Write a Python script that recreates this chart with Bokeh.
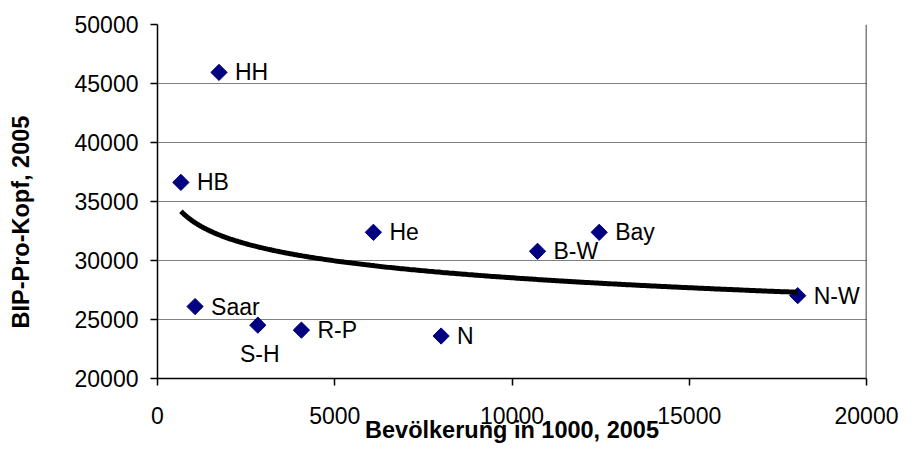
import numpy as np
from bokeh.plotting import figure
from bokeh.models import (FixedTicker, LabelSet, ColumnDataSource, Range1d,
                          Span, BasicTickFormatter, Title)
from bokeh.core.properties import value
from bokeh.embed import file_html
from bokeh.resources import INLINE

# ---- data ----
names = ["HB", "Saar", "HH", "S-H", "R-P", "He", "N", "B-W", "Bay", "N-W"]
pop = [660, 1060, 1735, 2830, 4060, 6090, 8000, 10720, 12460, 18060]
gdp = [36620, 26100, 45940, 24520, 24100, 32390, 23600, 30780, 32390, 27020]
x_ticks = [0, 5000, 10000, 15000, 20000]
y_ticks = [20000, 25000, 30000, 35000, 40000, 45000, 50000]
x_title = "Bevölkerung in 1000, 2005"
y_title = "BIP-Pro-Kopf, 2005"

FONT = "Liberation Sans"

p = figure(width=900, height=446, x_range=Range1d(0, 20000), y_range=Range1d(20000, 50000),
           output_backend="svg", toolbar_location=None,
           min_border_left=157, min_border_right=34, min_border_top=24, min_border_bottom=68)
p.background_fill_color = "white"
p.border_fill_color = "white"
p.outline_line_color = None

p.xgrid.visible = False
p.ygrid.grid_line_color = "#808080"
p.ygrid.grid_line_width = 1
p.ygrid.ticker = FixedTicker(ticks=y_ticks)

for ax, ticks, standoff in ((p.xaxis, x_ticks, 21), (p.yaxis, y_ticks, 12)):
    ax.ticker = FixedTicker(ticks=ticks)
    ax.formatter = BasicTickFormatter(use_scientific=False)
    ax.major_tick_out = 7
    ax.major_tick_in = 0
    ax.minor_tick_line_color = None
    ax.axis_line_color = "black"
    ax.axis_line_width = 1.5
    ax.major_tick_line_color = "black"
    ax.major_tick_line_width = 1.5
    ax.major_label_text_font = FONT
    ax.major_label_text_font_size = "23px"
    ax.major_label_text_color = "black"
    ax.major_label_standoff = standoff

p.xaxis.axis_label = x_title
p.xaxis.axis_label_standoff = -10
p.xaxis.axis_label_text_font = FONT
p.xaxis.axis_label_text_font_size = "23.5px"
p.xaxis.axis_label_text_font_style = "bold"
p.xaxis.axis_label_text_color = "black"

# blank spacer label widens the y-axis panel so the title sits at the far left
p.yaxis.axis_label = " "
p.yaxis.axis_label_standoff = 34
p.yaxis.axis_label_text_font_size = "1px"

p.add_layout(Title(text=y_title, align="left", offset=50, text_font=FONT,
                   text_font_size="23.5px", text_font_style="bold", text_color="black",
                   standoff=0), "left")

p.add_layout(Span(location=20000, dimension="height", line_color="black", line_width=1.5))

# markers
p.scatter(pop, gdp, marker="square", angle=np.pi / 4, size=11.5,
          fill_color="#000080", line_color="#000080")

# data labels
below = {"S-H"}
xo = [2 if n in below else 16 for n in names]
yo = [-29 if n in below else 0 for n in names]
al = ["center" if n in below else "left" for n in names]
src = ColumnDataSource(dict(x=pop, y=gdp, t=names, xo=xo, yo=yo, al=al))
p.add_layout(LabelSet(x="x", y="y", text="t", source=src, x_offset="xo", y_offset="yo",
                      text_align="al", text_baseline="middle", text_font=value(FONT),
                      text_font_size=value("23px"), text_color="black"))

# logarithmic trend line (least squares fit of gdp on ln(pop))
lx = np.log(np.array(pop, dtype=float))
a, b = np.polyfit(lx, np.array(gdp, dtype=float), 1)
tx = np.linspace(min(pop), max(pop), 300)
p.line(tx, a * np.log(tx) + b, line_color="black", line_width=5)

open("out.html", "w").write(file_html(p, INLINE))
